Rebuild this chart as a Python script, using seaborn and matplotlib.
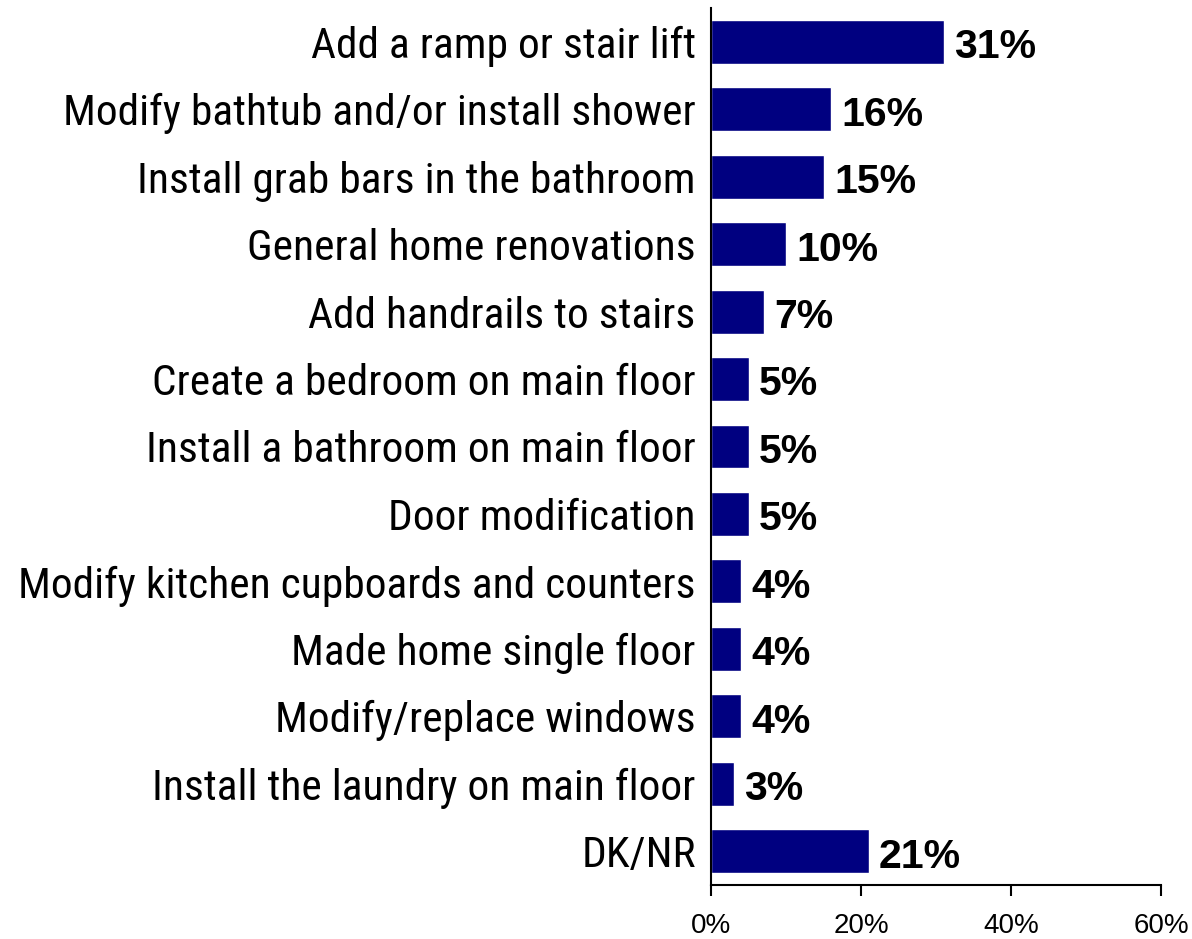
import matplotlib
matplotlib.use("Agg")
import matplotlib.pyplot as plt
import seaborn as sns
import pandas as pd
from matplotlib.ticker import FuncFormatter
from matplotlib import font_manager

categories = [
    "Add a ramp or stair lift",
    "Modify bathtub and/or install shower",
    "Install grab bars in the bathroom",
    "General home renovations",
    "Add handrails to stairs",
    "Create a bedroom on main floor",
    "Install a bathroom on main floor",
    "Door modification",
    "Modify kitchen cupboards and counters",
    "Made home single floor",
    "Modify/replace windows",
    "Install the laundry on main floor",
    "DK/NR",
]
values = [31, 16, 15, 10, 7, 5, 5, 5, 4, 4, 4, 3, 21]
x_ticks = [0, 20, 40, 60]

sns.set_theme(style="white")
plt.rcParams["font.family"] = ["Liberation Sans", "DejaVu Sans"]

# look for a narrow sans face among installed fonts
narrow = None
for f in font_manager.fontManager.ttflist:
    if f.name in ("Liberation Sans Narrow", "Arial Narrow", "Roboto Condensed",
                  "Open Sans Condensed") and f.weight in (400, "normal", "regular"):
        narrow = f.name
        break
if narrow is None:
    for f in font_manager.fontManager.ttflist:
        if f.name == "DejaVu Sans" and "condensed" in str(f.stretch).lower() \
                and f.weight in (400, "normal") and f.style == "normal":
            narrow = "DejaVu Sans"
            break

df = pd.DataFrame({"category": categories, "value": values})

fig = plt.figure(figsize=(11.92, 9.39), dpi=100)
ax = fig.add_axes([711 / 1192, 1 - 885 / 939, 450 / 1192, (885 - 8) / 939])

sns.barplot(data=df, x="value", y="category", orient="h", color="#000080",
            saturation=1, width=0.65, ax=ax)

for p, v in zip(ax.patches, values):
    ax.text(p.get_width() + 1.4, p.get_y() + p.get_height() / 2 + 0.08, f"{v}%",
            va="center", ha="left", fontsize=29.5, fontweight="bold",
            family=["Liberation Sans", "DejaVu Sans"], color="black")

ax.set_xlim(0, 60)
ax.set_ylim(12.5, -0.5)
ax.set_xticks(x_ticks)
ax.xaxis.set_major_formatter(FuncFormatter(lambda x, _: f"{int(x)}%"))
ax.set_xlabel("")
ax.set_ylabel("")

for s in ["top", "right"]:
    ax.spines[s].set_visible(False)
for s in ["left", "bottom"]:
    ax.spines[s].set_color("black")
    ax.spines[s].set_linewidth(1.5)

ax.tick_params(axis="x", which="both", bottom=True, length=8, width=1.5,
               color="black", direction="out", pad=12, labelsize=20)
ax.tick_params(axis="y", which="both", left=False, pad=5)
for lbl in ax.get_yticklabels():
    if narrow == "DejaVu Sans":
        lbl.set_family(["DejaVu Sans"])
        lbl.set_stretch("condensed")
        lbl.set_fontsize(29)
    elif narrow is not None:
        lbl.set_family([narrow, "Liberation Sans"])
        lbl.set_fontsize(31.2)
    else:
        lbl.set_family(["Liberation Sans", "DejaVu Sans"])
        lbl.set_fontsize(28)
    lbl.set_color("black")
for lbl in ax.get_xticklabels():
    lbl.set_color("black")

fig.savefig("out.png", dpi=100)
